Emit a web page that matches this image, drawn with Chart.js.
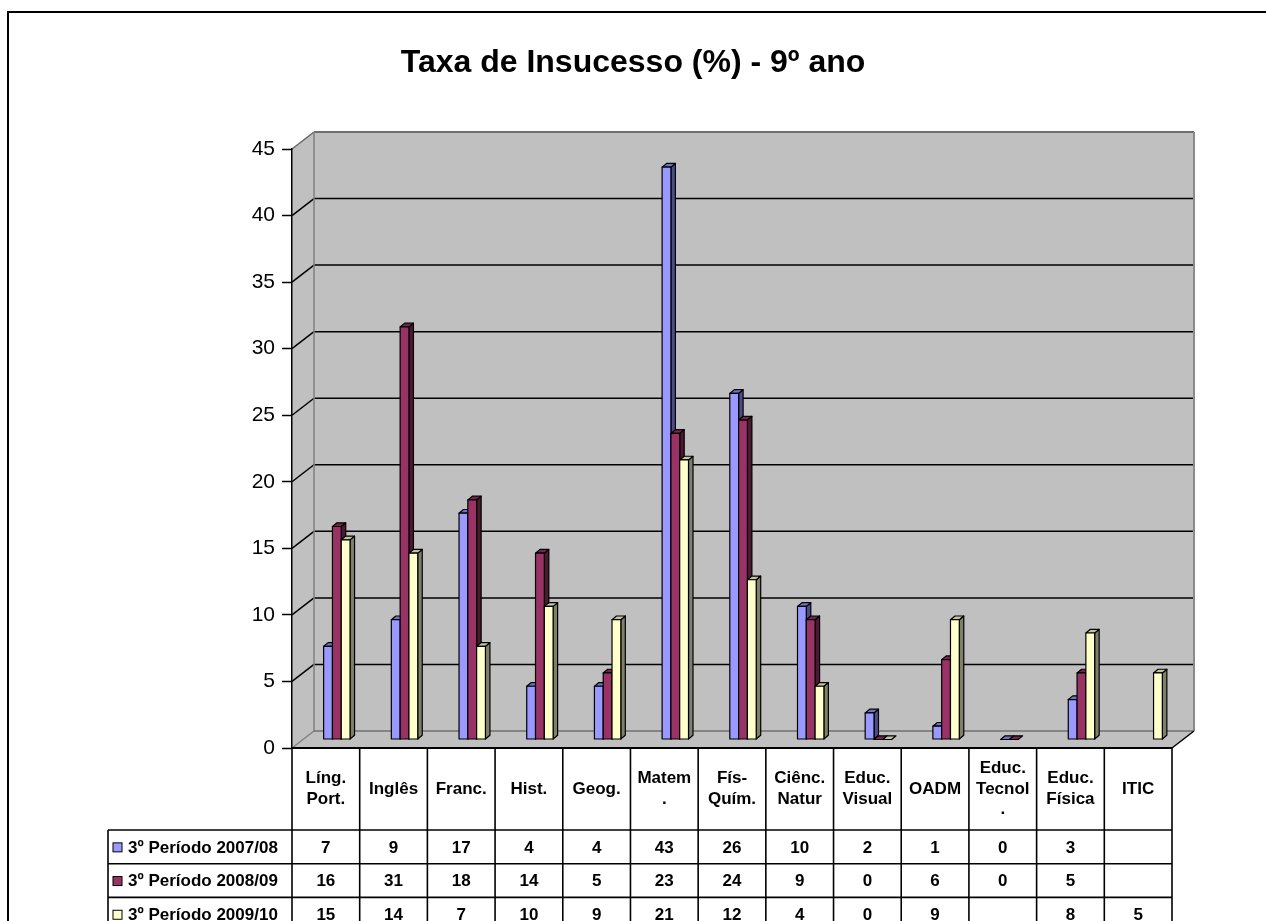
<!DOCTYPE html>
<html>
<head>
<meta charset="utf-8">
<script src="https://cdn.jsdelivr.net/npm/chart.js@4.4.1/dist/chart.umd.min.js"></script>
<style>
  html, body { margin: 0; padding: 0; background: #ffffff; }
  canvas { display: block; }
</style>
</head>
<body>
<canvas id="c" width="1266" height="921"></canvas>
<script>
// ---------- DATA ----------
const chartTitle = 'Taxa de Insucesso (%) - 9º ano';
const categories = [
  ['Líng.', 'Port.'], ['Inglês'], ['Franc.'], ['Hist.'], ['Geog.'], ['Matem', '.'],
  ['Fís-', 'Quím.'], ['Ciênc.', 'Natur'], ['Educ.', 'Visual'], ['OADM'],
  ['Educ.', 'Tecnol', '.'], ['Educ.', 'Física'], ['ITIC']
];
const seriesNames = ['3º Período 2007/08', '3º Período 2008/09', '3º Período 2009/10'];
const period0708 = [7, 9, 17, 4, 4, 43, 26, 10, 2, 1, 0, 3, null];
const period0809 = [16, 31, 18, 14, 5, 23, 24, 9, 0, 6, 0, 5, null];
const period0910 = [15, 14, 7, 10, 9, 21, 12, 4, 0, 9, null, 8, 5];
const yMin = 0, yMax = 45, yStep = 5;

// ---------- STYLE ----------
const FONT = '"Liberation Sans", Arial, Helvetica, sans-serif';
const faceColors = ['#9999FF', '#993366', '#FFFFCC'];
const sideColors = ['#4C4C86', '#4C1933', '#80806A'];
const topColors  = ['#7373C6', '#73264D', '#C4C4A0'];
const WALL = '#C0C0C0';
const DX = 22, DY = -17;          // depth of the 3D box
const BDX = 4.5, BDY = -3.7;      // depth of each bar
const BAR_SHIFT_X = 11, BAR_SHIFT_Y = -8.5; // bars sit at mid depth

const seriesData = [period0708, period0809, period0910];

function poly(ctx, pts, fill, stroke, lw) {
  ctx.beginPath();
  ctx.moveTo(pts[0][0], pts[0][1]);
  for (let i = 1; i < pts.length; i++) ctx.lineTo(pts[i][0], pts[i][1]);
  ctx.closePath();
  if (fill) { ctx.fillStyle = fill; ctx.fill(); }
  if (stroke) { ctx.strokeStyle = stroke; ctx.lineWidth = lw || 1; ctx.stroke(); }
}
function line(ctx, x1, y1, x2, y2, color, lw) {
  ctx.beginPath();
  ctx.moveTo(x1, y1); ctx.lineTo(x2, y2);
  ctx.strokeStyle = color; ctx.lineWidth = lw; ctx.stroke();
}

const backdropPlugin = {
  id: 'backdrop',
  beforeDraw(chart) {
    const ctx = chart.ctx;
    const a = chart.chartArea;
    const y = chart.scales.y;
    ctx.save();
    ctx.fillStyle = '#ffffff';
    ctx.fillRect(0, 0, chart.width, chart.height);
    // outer frame
    ctx.strokeStyle = '#000'; ctx.lineWidth = 2;
    ctx.strokeRect(8, 12, 1300, 960);
    // title
    ctx.fillStyle = '#000';
    ctx.font = 'bold 32px ' + FONT;
    ctx.textAlign = 'center'; ctx.textBaseline = 'alphabetic';
    ctx.fillText(chartTitle, 633, 72);
    const L = a.left, R = a.right, T = a.top, B = a.bottom;
    // back wall
    poly(ctx, [[L + DX, T + DY], [R + DX, T + DY], [R + DX, B + DY], [L + DX, B + DY]], WALL);
    // left wall
    poly(ctx, [[L, T], [L + DX, T + DY], [L + DX, B + DY], [L, B]], WALL);
    // floor
    poly(ctx, [[L, B], [L + DX, B + DY], [R + DX, B + DY], [R, B]], WALL);
    // gridlines on back wall and left wall
    for (let v = yMin + yStep; v < yMax; v += yStep) {
      const py = y.getPixelForValue(v);
      line(ctx, L + DX, py + DY, R + DX, py + DY, '#000', 1.5);
      line(ctx, L, py, L + DX, py + DY, '#000', 1.5);
    }
    // edges
    line(ctx, L, T, L + DX, T + DY, '#666', 1.5);
    line(ctx, L + DX, T + DY, R + DX, T + DY, '#6e6e6e', 2);
    line(ctx, R + DX, T + DY, R + DX, B + DY, '#8a8a8a', 2);
    line(ctx, L + DX, T + DY, L + DX, B + DY, '#808080', 1.5);
    line(ctx, L, B, L + DX, B + DY, '#808080', 1.5);
    line(ctx, L + DX, B + DY, R + DX, B + DY, '#707070', 1.5);
    line(ctx, R, B, R + DX, B + DY, '#000', 1.5);
    ctx.restore();
  },
  beforeDatasetDraw() {
    // flat fronts are replaced by the 3D bars drawn in afterDatasetsDraw
    return false;
  },
  afterDatasetsDraw(chart) {
    const ctx = chart.ctx;
    ctx.save();
    ctx.translate(BAR_SHIFT_X, BAR_SHIFT_Y);
    const metas = [0, 1, 2].map(i => chart.getDatasetMeta(i));
    for (let c = 0; c < categories.length; c++) {
      for (let s = 0; s < 3; s++) {
        const val = seriesData[s][c];
        if (val === null || val === undefined) continue;
        const el = metas[s].data[c];
        const left = el.x - el.width / 2, right = el.x + el.width / 2;
        const top = el.y, base = el.base;
        ctx.lineJoin = 'round';
        if (base - top > 0.5) {
          poly(ctx, [[right, top], [right + BDX, top + BDY], [right + BDX, base + BDY], [right, base]], sideColors[s], '#000', 1.2);
        }
        poly(ctx, [[left, top], [left + BDX, top + BDY], [right + BDX, top + BDY], [right, top]], topColors[s], '#000', 1.2);
        if (base - top > 0.5) {
          poly(ctx, [[left, top], [right, top], [right, base], [left, base]], faceColors[s], '#000', 1.2);
        }
      }
    }
    ctx.restore();
  },
  afterDraw(chart) {
    const ctx = chart.ctx;
    const a = chart.chartArea;
    const L = a.left, R = a.right, B = a.bottom;
    const n = categories.length;
    const cw = (R - L) / n;
    const headerBottom = 830;
    const rowH = 33.7;
    const labelLeft = 108;
    ctx.save();
    line(ctx, L, B, R, B, '#000', 1.8);
    for (let r = 0; r <= 3; r++) {
      const yy = headerBottom + r * rowH;
      line(ctx, labelLeft, yy, R, yy, '#000', 1.6);
    }
    for (let i = 0; i <= n; i++) {
      const xx = L + i * cw;
      line(ctx, xx, B, xx, 960, '#000', 1.6);
    }
    line(ctx, labelLeft, headerBottom, labelLeft, 960, '#000', 1.6);
    ctx.fillStyle = '#000';
    ctx.font = 'bold 17px ' + FONT;
    ctx.textAlign = 'center'; ctx.textBaseline = 'middle';
    const hMid = (B + headerBottom) / 2;
    const lh = 20.5;
    categories.forEach((lab, i) => {
      const cx = L + (i + 0.5) * cw;
      const y0 = hMid - (lab.length - 1) * lh / 2;
      lab.forEach((t, k) => ctx.fillText(t, cx, y0 + k * lh));
    });
    for (let s = 0; s < 3; s++) {
      const cy = headerBottom + (s + 0.5) * rowH + 1;
      for (let i = 0; i < n; i++) {
        const v = seriesData[s][i];
        if (v === null || v === undefined) continue;
        ctx.fillText(String(v), L + (i + 0.5) * cw, cy);
      }
      ctx.fillStyle = faceColors[s];
      ctx.fillRect(113, cy - 5, 9, 9);
      ctx.strokeStyle = '#000'; ctx.lineWidth = 1;
      ctx.strokeRect(113, cy - 5, 9, 9);
      ctx.fillStyle = '#000';
      ctx.textAlign = 'left';
      ctx.fillText(seriesNames[s], 128, cy);
      ctx.textAlign = 'center';
    }
    ctx.restore();
  }
};

new Chart(document.getElementById('c'), {
  type: 'bar',
  data: {
    labels: categories,
    datasets: seriesNames.map((name, i) => ({
      label: name,
      data: seriesData[i],
      backgroundColor: faceColors[i],
      borderColor: '#000',
      borderWidth: 1,
      categoryPercentage: 0.39,
      barPercentage: 1.0
    }))
  },
  options: {
    responsive: false,
    animation: false,
    devicePixelRatio: 1,
    layout: { padding: { left: 212, right: 94, top: 149, bottom: 173 } },
    plugins: {
      legend: { display: false },
      title: { display: false },
      tooltip: { enabled: false }
    },
    scales: {
      x: { display: false },
      y: {
        min: yMin, max: yMax,
        afterFit(scale) { scale.width = 80; },
        ticks: {
          stepSize: yStep,
          color: '#000',
          padding: 7,
          font: { family: FONT, size: 21 }
        },
        grid: {
          drawOnChartArea: false,
          drawTicks: true,
          tickLength: 10,
          tickColor: '#000',
          tickWidth: 1.5,
          color: '#000'
        },
        border: { display: true, color: '#000', width: 1.5 }
      }
    }
  },
  plugins: [backdropPlugin]
});
</script>
</body>
</html>
